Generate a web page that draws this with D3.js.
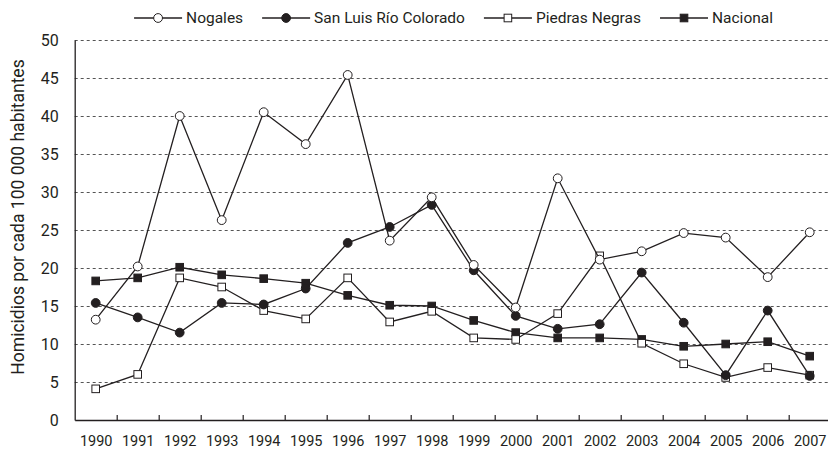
<!DOCTYPE html>
<html>
<head>
<meta charset="utf-8">
<script src="https://cdn.jsdelivr.net/npm/d3@7"></script>
<style>
  body { margin: 0; background: #fff; }
  svg text { font-family: Roboto, "Liberation Sans", sans-serif; fill: #231f20; }
</style>
</head>
<body>
<svg width="828" height="449"></svg>
<script>
var years = [1990, 1991, 1992, 1993, 1994, 1995, 1996, 1997, 1998, 1999,
             2000, 2001, 2002, 2003, 2004, 2005, 2006, 2007];
var yTicks = [0, 5, 10, 15, 20, 25, 30, 35, 40, 45, 50];

var nogales = [13.2, 20.2, 40.0, 26.3, 40.5, 36.3, 45.4, 23.6, 29.3, 20.4,
               14.8, 31.8, 21.1, 22.2, 24.6, 24.0, 18.8, 24.7];
var sanLuis = [15.4, 13.5, 11.5, 15.4, 15.2, 17.3, 23.3, 25.4, 28.3, 19.7,
               13.7, 12.0, 12.6, 19.4, 12.8, 5.9, 14.4, 5.8];
var piedras = [4.1, 6.0, 18.7, 17.5, 14.4, 13.3, 18.7, 12.9, 14.3, 10.8,
               10.6, 14.0, 21.6, 10.1, 7.4, 5.6, 6.9, 5.9];
var nacional = [18.3, 18.7, 20.1, 19.1, 18.6, 18.0, 16.4, 15.1, 15.0, 13.1,
                11.5, 10.8, 10.8, 10.6, 9.7, 10.0, 10.3, 8.4];

var seriesNames = ["Nogales", "San Luis Río Colorado", "Piedras Negras", "Nacional"];
var seriesValues = [nogales, sanLuis, piedras, nacional];
// marker type per series: shape + filled
var markers = [
  { shape: "circle", fill: "#fff" },
  { shape: "circle", fill: "#231f20" },
  { shape: "square", fill: "#fff" },
  { shape: "square", fill: "#231f20" }
];

var svg = d3.select("svg");
var ink = "#231f20";

var plotLeft = 74.7, plotRight = 830.7, plotTop = 40, plotBottom = 420;

var x = d3.scaleLinear([1989.5, 2007.5], [plotLeft, plotRight]);
var y = d3.scaleLinear([0, 50], [plotBottom, plotTop]);

// dashed gridlines
svg.append("g")
  .selectAll("line")
  .data(yTicks.filter(function (d) { return d > 0; }))
  .enter().append("line")
  .attr("x1", plotLeft).attr("x2", 828)
  .attr("y1", function (d) { return Math.round(y(d)) + 0.5; })
  .attr("y2", function (d) { return Math.round(y(d)) + 0.5; })
  .attr("stroke", "#555")
  .attr("stroke-width", 1)
  .attr("stroke-dasharray", "3,3");

// y axis
var yAxis = svg.append("g")
  .attr("transform", "translate(" + plotLeft + ",0)")
  .call(d3.axisLeft(y).tickValues(yTicks).tickSize(0).tickPadding(16));
yAxis.select(".domain").attr("stroke", ink).attr("stroke-width", 1.3);
yAxis.selectAll("text").style("font-size", "16px").attr("dy", "0.36em");

// x axis: labels at years, ticks between years
var xAxis = svg.append("g")
  .attr("transform", "translate(0," + plotBottom + ")")
  .call(d3.axisBottom(x).tickValues(years).tickFormat(d3.format("d")).tickSize(0).tickPadding(16));
xAxis.select(".domain").attr("stroke", ink).attr("stroke-width", 1.5);
xAxis.selectAll("text").style("font-size", "14.5px");

var xTicks = svg.append("g")
  .attr("transform", "translate(0," + plotBottom + ")")
  .call(d3.axisBottom(x).tickValues(years.map(function (d) { return d + 0.5; })).tickSize(-5).tickFormat(""));
xTicks.select(".domain").remove();
xTicks.selectAll("line").attr("stroke", ink).attr("stroke-width", 1.2);

var line = d3.line()
  .x(function (d, i) { return x(years[i]); })
  .y(function (d) { return y(d); });

function drawMarker(g, m, cx, cy) {
  if (m.shape === "circle") {
    g.append("circle")
      .attr("cx", cx).attr("cy", cy).attr("r", 4.4)
      .attr("fill", m.fill).attr("stroke", ink).attr("stroke-width", 1);
  } else {
    g.append("rect")
      .attr("x", cx - 3.8).attr("y", cy - 3.8)
      .attr("width", 7.6).attr("height", 7.6)
      .attr("fill", m.fill).attr("stroke", ink).attr("stroke-width", 1);
  }
}

// draw series in reverse so Nogales ends up on top
for (var s = seriesValues.length - 1; s >= 0; s--) {
  var g = svg.append("g");
  g.append("path")
    .datum(seriesValues[s])
    .attr("d", line)
    .attr("fill", "none")
    .attr("stroke", ink)
    .attr("stroke-width", 1.3);
  seriesValues[s].forEach(function (v, i) {
    drawMarker(g, markers[s], x(years[i]), y(v));
  });
}

// y title
svg.append("text")
  .attr("transform", "translate(24,217) rotate(-90)")
  .attr("text-anchor", "middle")
  .style("font-size", "17.5px")
  .text("Homicidios por cada 100 000 habitantes");

// legend
var legend = svg.append("g");
var lx = 0;
seriesNames.forEach(function (name, i) {
  var it = legend.append("g");
  it.append("line")
    .attr("x1", 0).attr("x2", 48).attr("y1", 0).attr("y2", 0)
    .attr("stroke", ink).attr("stroke-width", 1.3);
  drawMarker(it, markers[i], 24, 0);
  var t = it.append("text")
    .attr("x", 52).attr("dy", "0.35em")
    .style("font-size", "15.5px")
    .text(name);
  var w = 52 + t.node().getComputedTextLength();
  it.attr("transform", "translate(" + lx + ",18)");
  lx += w + 19;
});
var legendRight = lx - 19;
legend.attr("transform", "translate(" + (773 - legendRight) + ",0)");
</script>
</body>
</html>
